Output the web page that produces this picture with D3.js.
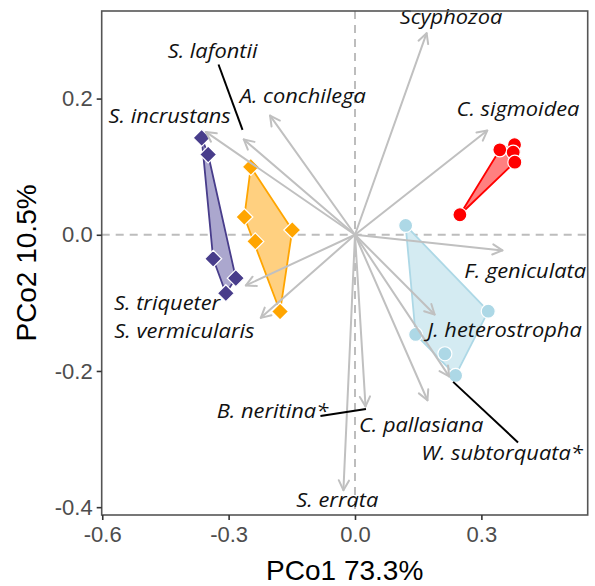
<!DOCTYPE html>
<html>
<head>
<meta charset="utf-8">
<script src="https://cdn.jsdelivr.net/npm/d3@7"></script>
<style>
  body { margin: 0; background: #fff; }
  svg { display: block; }
</style>
</head>
<body>
<svg id="chart" width="595" height="586"></svg>
<script>
// ---- data ----
const xTicks = [-0.6, -0.3, 0.0, 0.3];
const yTicks = [0.2, 0.0, -0.2, -0.4];
const xTickLabels = ["-0.6", "-0.3", "0.0", "0.3"];
const yTickLabels = ["0.2", "0.0", "-0.2", "-0.4"];

const groups = ["purple", "orange", "red", "blue"];
const groupShapes = ["diamond", "diamond", "circle", "circle"];
const groupStroke = ["#483D8B", "#FFA500", "#FF0000", "#ADD8E6"];
const groupFill   = ["#aba7ce", "#ffd080", "#ff8080", "#d4ebf2"];

const purpleX = [-0.364, -0.3486, -0.3367, -0.2829, -0.3066];
const purpleY = [0.1424, 0.1179, -0.0352, -0.0637, -0.0858];
const orangeX = [-0.2473, -0.2627, -0.1489, -0.2367, -0.1779];
const orangeY = [0.0996, 0.0261, 0.0070, -0.0098, -0.1126];
const redX = [0.3438, 0.3787, 0.3756, 0.3794, 0.2490];
const redY = [0.1248, 0.1322, 0.1213, 0.1066, 0.0294];
const blueX = [0.1202, 0.3163, 0.1439, 0.2134, 0.2388];
const blueY = [0.0137, -0.1122, -0.1464, -0.1747, -0.2066];

const species = ["Scyphozoa", "C. sigmoidea", "A. conchilega", "S. lafontii", "S. incrustans",
  "F. geniculata", "J. heterostropha", "W. subtorquata*", "C. pallasiana", "B. neritina*",
  "S. errata", "S. triqueter", "S. vermicularis"];
const vecX = [0.170, 0.314, -0.2016, -0.264, -0.354, 0.350, 0.189, 0.2235, 0.172, 0.025, -0.0275, -0.259, -0.2236];
const vecY = [0.296, 0.153, 0.175, 0.140, 0.151, -0.023, -0.117, -0.208, -0.243, -0.252, -0.375, -0.0744, -0.122];
// label positions (data units) of label centres / baselines
const labX = [0.228, 0.387, -0.124, -0.338, -0.440, 0.404, 0.355, 0.349, 0.157, -0.196, -0.042, -0.446, -0.405];
const labY = [0.309, 0.174, 0.194, 0.260, 0.164, -0.063, -0.150, -0.331, -0.289, -0.269, -0.400, -0.111, -0.152];
// leader lines in data units
const leaderSp = ["S. lafontii", "B. neritina*", "W. subtorquata*"];
const leaderFromX = [-0.324, -0.082, 0.233];
const leaderFromY = [0.250, -0.266, -0.216];
const leaderToX = [-0.267, 0.026, 0.387];
const leaderToY = [0.154, -0.256, -0.305];

// ---- layout ----
const svg = d3.select("#chart");
const P = { left: 101.7, right: 587.7, top: 11, bottom: 515 };
const x = d3.scaleLinear().domain([-0.6013, 0.5524]).range([P.left, P.right]);
const y = d3.scaleLinear().domain([-0.4115, 0.3286]).range([P.bottom, P.top]);

// reference dashed lines
svg.append("line").attr("x1", x(0)).attr("x2", x(0)).attr("y1", P.top).attr("y2", P.bottom)
  .attr("stroke", "#bdbdbd").attr("stroke-width", 2).attr("stroke-dasharray", "8,6");
svg.append("line").attr("y1", y(0)).attr("y2", y(0)).attr("x1", P.left).attr("x2", P.right)
  .attr("stroke", "#bdbdbd").attr("stroke-width", 2).attr("stroke-dasharray", "8,6");

// hulls
const gx = [purpleX, orangeX, redX, blueX];
const gy = [purpleY, orangeY, redY, blueY];
const gHull = svg.append("g");
groups.forEach((g, i) => {
  const pts = gx[i].map((v, j) => [x(v), y(gy[i][j])]);
  const hull = d3.polygonHull(pts);
  gHull.append("path").attr("d", "M" + hull.join("L") + "Z")
    .attr("fill", groupFill[i]).attr("stroke", groupStroke[i]).attr("stroke-width", 1.8)
    .attr("stroke-linejoin", "round");
});

// points
const gPts = svg.append("g");
groups.forEach((g, i) => {
  gx[i].forEach((v, j) => {
    const px = x(v), py = y(gy[i][j]);
    if (groupShapes[i] === "diamond") {
      const s = 8.5;
      gPts.append("path").attr("d", `M${px},${py - s}L${px + s},${py}L${px},${py + s}L${px - s},${py}Z`)
        .attr("fill", groupStroke[i]).attr("stroke", "#fff").attr("stroke-width", 1.2);
    } else {
      gPts.append("circle").attr("cx", px).attr("cy", py).attr("r", 7)
        .attr("fill", groupStroke[i]).attr("stroke", "#fff").attr("stroke-width", 1.2);
    }
  });
});

// arrows
const gArr = svg.append("g").attr("stroke", "#c0c0c0").attr("stroke-width", 2).attr("fill", "none")
  .attr("stroke-linecap", "round").attr("stroke-linejoin", "round");
species.forEach((s, i) => {
  const x0 = x(0), y0 = y(0), x1 = x(vecX[i]), y1 = y(vecY[i]);
  gArr.append("line").attr("x1", x0).attr("y1", y0).attr("x2", x1).attr("y2", y1);
  const a = Math.atan2(y1 - y0, x1 - x0);
  const L = 11, h = Math.PI / 6.5;
  const p1 = [x1 - L * Math.cos(a - h), y1 - L * Math.sin(a - h)];
  const p2 = [x1 - L * Math.cos(a + h), y1 - L * Math.sin(a + h)];
  gArr.append("path").attr("d", `M${p1}L${x1},${y1}L${p2}`);
});

// leader lines
leaderSp.forEach((s, i) => {
  svg.append("line").attr("x1", x(leaderFromX[i])).attr("y1", y(leaderFromY[i]))
    .attr("x2", x(leaderToX[i])).attr("y2", y(leaderToY[i]))
    .attr("stroke", "#000").attr("stroke-width", 2);
});

// labels (slightly widened to mimic the original's wider rendering)
svg.append("g").selectAll("text").data(species).join("text")
  .attr("transform", (d, i) => `translate(${x(labX[i])},${y(labY[i])}) scale(1.12,1)`)
  .attr("text-anchor", "middle")
  .attr("font-family", "'Open Sans', Lato, sans-serif").attr("font-style", "italic")
  .attr("font-size", 19.5).attr("fill", "#111")
  .text(d => d);

// panel border
svg.append("rect").attr("x", P.left).attr("y", P.top).attr("width", P.right - P.left)
  .attr("height", P.bottom - P.top).attr("fill", "none").attr("stroke", "#555").attr("stroke-width", 1.6);

// axes
const xAxis = d3.axisBottom(x).tickValues(xTicks).tickFormat((d, i) => xTickLabels[i]).tickSize(5).tickPadding(6);
const yAxis = d3.axisLeft(y).tickValues(yTicks).tickFormat((d, i) => yTickLabels[i]).tickSize(5).tickPadding(4);
const gxA = svg.append("g").attr("transform", `translate(0,${P.bottom})`).call(xAxis);
const gyA = svg.append("g").attr("transform", `translate(${P.left},0)`).call(yAxis);
[gxA, gyA].forEach(g => {
  g.select(".domain").remove();
  g.selectAll(".tick line").attr("stroke", "#333").attr("stroke-width", 1.6);
  g.selectAll(".tick text").attr("fill", "#4d4d4d").attr("font-size", 22)
    .attr("font-family", "'Liberation Sans', Arial, sans-serif");
});

// axis titles
svg.append("text").attr("x", (P.left + P.right) / 2).attr("y", 580).attr("text-anchor", "middle")
  .attr("font-family", "'Liberation Sans', Arial, sans-serif").attr("font-size", 28).attr("fill", "#000")
  .text("PCo1 73.3%");
svg.append("text").attr("transform", `translate(36,${(P.top + P.bottom) / 2}) rotate(-90)`)
  .attr("text-anchor", "middle")
  .attr("font-family", "'Liberation Sans', Arial, sans-serif").attr("font-size", 28).attr("fill", "#000")
  .text("PCo2 10.5%");
</script>
</body>
</html>
